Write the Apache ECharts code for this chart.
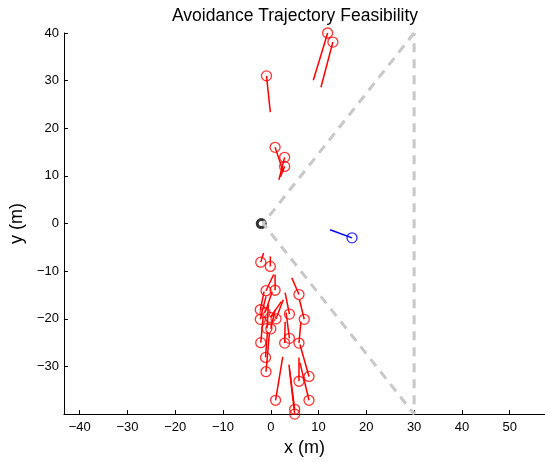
<!DOCTYPE html>
<html>
<head>
<meta charset="utf-8">
<script src="https://cdn.jsdelivr.net/npm/echarts@6/dist/echarts.min.js"></script>
<style>
html,body{margin:0;padding:0;background:#fff;}
#chart{width:545px;height:462px;}
</style>
</head>
<body>
<div id="chart"></div>
<script>
// Tick labels
const xTicks = [-40, -30, -20, -10, 0, 10, 20, 30, 40, 50];
const yTicks = [-30, -20, -10, 0, 10, 20, 30, 40];

// Red obstacles: circle position and trajectory end point
const obsX = [-0.9, 11.9, 13.0, 0.9, 2.9, 2.9,
  -2.1, -0.1, -1.0, 0.9, 5.9, -2.2, -1.2, 3.9, 7.0, -2.2, 1.1, -0.1, -0.8, 0.0,
  3.9, 2.9, 5.9, -2.1, -1.1, -1.0, 8.0, 5.9, 1.0, 8.0, 5.0, 5.0];
const obsY = [31.0, 40.0, 38.1, 16.0, 13.9, 12.0,
  -8.1, -9.0, -14.1, -14.0, -14.9, -18.1, -18.7, -19.0, -20.1, -20.1, -20.0, -19.7, -22.0, -22.1,
  -24.1, -25.1, -25.1, -25.0, -28.1, -31.1, -32.1, -33.1, -37.1, -37.1, -39.0, -40.0];
const endX = [-0.1, 8.9, 10.5, 2.6, 1.7, 2.0,
  -1.5, -0.1, 0.6, 0.9, 4.4, -1.4, 0.3, 3.0, 6.0, -1.0, 2.6, 2.2, -0.5, 0.9,
  3.2, 3.0, 6.3, -1.6, -0.7, -0.3, 6.1, 5.9, 2.5, 6.1, 3.8, 3.9];
const endY = [23.4, 30.1, 28.6, 10.9, 9.2, 9.8,
  -6.2, -6.9, -10.7, -10.7, -11.4, -14.3, -14.3, -14.5, -16.0, -15.3, -16.0, -16.4, -17.0, -18.1,
  -18.7, -20.6, -20.6, -19.6, -22.7, -23.1, -25.4, -28.1, -28.0, -29.2, -29.6, -30.6];

// Blue obstacle
const blueX = [17.0], blueY = [-3.0];
const blueEndX = [12.4], blueEndY = [-1.3];

// Own vehicle
const ownX = [-2.0], ownY = [0];

// Feasibility cone (dashed gray)
const coneX = [30, -1.6, 30, 30];
const coneY = [40, 0, -40, 40];

const FONT = 'Liberation Sans, Arial, Helvetica, sans-serif';
const minus = v => String(v).replace('-', '\u2212');

const series = [];
// own vehicle circle (drawn first, under the cone)
series.push({
  type: 'scatter', data: ownX.map((x, i) => [x, ownY[i]]),
  symbol: 'circle', symbolSize: 8,
  itemStyle: { color: 'rgba(0,0,0,0)', borderColor: '#000', borderWidth: 3 },
  clip: false, silent: true, z: 2
});
series.push({
  type: 'line', data: coneX.map((x, i) => [x, coneY[i]]),
  showSymbol: false, symbol: 'none',
  lineStyle: { color: '#c8c8c8', width: 3, type: [9, 7] },
  clip: false, silent: true, z: 3
});
for (let i = 0; i < obsX.length; i++) {
  series.push({
    type: 'line', data: [[obsX[i], obsY[i]], [endX[i], endY[i]]],
    symbol: 'none', lineStyle: { color: '#ff0000', width: 1.5 },
    clip: false, silent: true, z: 4
  });
}
series.push({
  type: 'scatter', data: obsX.map((x, i) => [x, obsY[i]]),
  symbol: 'circle', symbolSize: 10,
  itemStyle: { color: 'rgba(0,0,0,0)', borderColor: '#ff0000', borderWidth: 1.3 },
  clip: false, silent: true, z: 5
});
for (let i = 0; i < blueX.length; i++) {
  series.push({
    type: 'line', data: [[blueX[i], blueY[i]], [blueEndX[i], blueEndY[i]]],
    symbol: 'none', lineStyle: { color: '#0000ff', width: 1.5 },
    clip: false, silent: true, z: 4
  });
}
series.push({
  type: 'scatter', data: blueX.map((x, i) => [x, blueY[i]]),
  symbol: 'circle', symbolSize: 10,
  itemStyle: { color: 'rgba(0,0,0,0)', borderColor: '#0000ff', borderWidth: 1.3 },
  clip: false, silent: true, z: 5
});

const chart = echarts.init(document.getElementById('chart'), null, { renderer: 'canvas' });
chart.setOption({
  animation: false,
  backgroundColor: '#fff',
  textStyle: { fontFamily: FONT },
  grid: { left: 63, right: 0, top: 33, bottom: 47, containLabel: false },
  graphic: [{
    type: 'text', x: 295, y: 16,
    style: { text: 'Avoidance Trajectory Feasibility', font: '17.5px ' + FONT, fill: '#000',
      textAlign: 'center', textVerticalAlign: 'middle' }
  }],
  xAxis: {
    type: 'value', min: -43.3, max: 57.4,
    axisLine: { show: true, onZero: false, lineStyle: { color: '#000', width: 1 } },
    axisTick: { show: true, inside: true, length: 4, customValues: xTicks, lineStyle: { color: '#000' } },
    axisLabel: { customValues: xTicks, formatter: minus, fontSize: 13, color: '#000', margin: 7, fontFamily: FONT },
    splitLine: { show: false },
    name: 'x (m)', nameLocation: 'middle', nameGap: 19,
    nameTextStyle: { fontSize: 18, color: '#000', fontFamily: FONT }
  },
  yAxis: {
    type: 'value', min: -40, max: 40,
    axisLine: { show: true, onZero: false, lineStyle: { color: '#000', width: 1 } },
    axisTick: { show: true, inside: true, length: 4, customValues: yTicks, lineStyle: { color: '#000' } },
    axisLabel: { customValues: yTicks, formatter: minus, fontSize: 13, color: '#000', margin: 5, fontFamily: FONT },
    splitLine: { show: false },
    name: 'y (m)', nameLocation: 'middle', nameGap: 35,
    nameTextStyle: { fontSize: 18, color: '#000', fontFamily: FONT }
  },
  series: series
});
</script>
</body>
</html>
